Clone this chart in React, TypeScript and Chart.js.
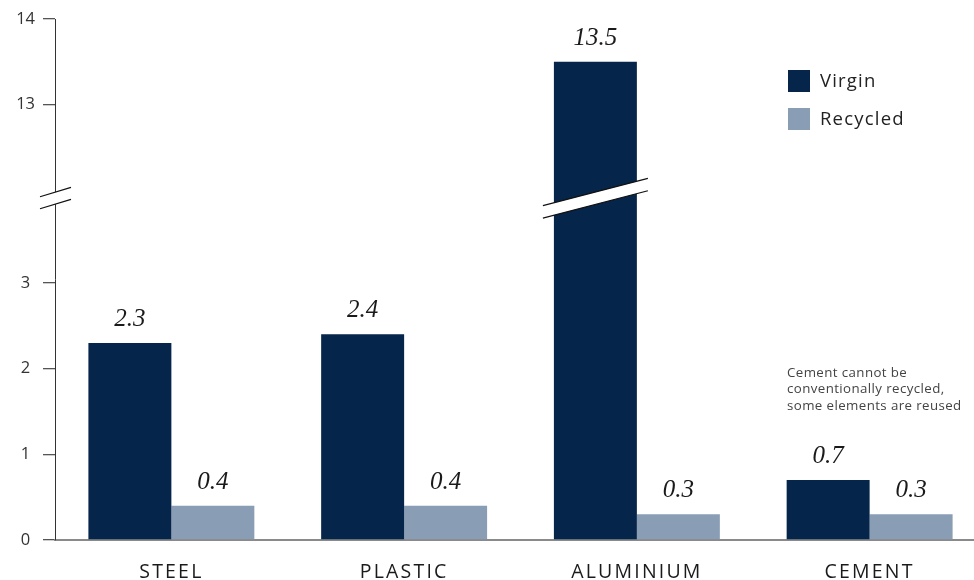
import { useEffect, useRef } from 'react';
import { Chart, registerables } from 'chart.js';

Chart.register(...registerables);

const categories = ['STEEL', 'PLASTIC', 'ALUMINIUM', 'CEMENT'];
const virgin = [2.3, 2.4, 13.5, 0.7];
const recycled = [0.4, 0.4, 0.3, 0.3];
const yTickValues = [0, 1, 2, 3, 13, 14];
const seriesNames = ['Virgin', 'Recycled'];
const seriesColors = ['#06254a', '#899db4'];
const noteLines = ['Cement cannot be', 'conventionally recycled,', 'some elements are reused'];

// broken axis: values above BREAK_LOW are shifted down by OFFSET
const BREAK_LOW = 4;
const OFFSET = 7.92;
const toAxis = (v: number) => (v > BREAK_LOW ? v - OFFSET : v);
const fromAxis = (v: number) => (v > BREAK_LOW ? Math.round(v + OFFSET) : Math.round(v));

const SANS = '"Open Sans", sans-serif';

function drawBreak(ctx: CanvasRenderingContext2D, x1: number, x2: number, xc: number, ymid: number, slope: number, half: number) {
  const y = (x: number) => ymid - slope * (x - xc);
  ctx.save();
  ctx.beginPath();
  ctx.moveTo(x1, y(x1) - half);
  ctx.lineTo(x2, y(x2) - half);
  ctx.lineTo(x2, y(x2) + half);
  ctx.lineTo(x1, y(x1) + half);
  ctx.closePath();
  ctx.fillStyle = '#ffffff';
  ctx.fill();
  ctx.strokeStyle = '#111';
  ctx.lineWidth = 1.2;
  ctx.beginPath();
  ctx.moveTo(x1, y(x1) - half);
  ctx.lineTo(x2, y(x2) - half);
  ctx.moveTo(x1, y(x1) + half);
  ctx.lineTo(x2, y(x2) + half);
  ctx.stroke();
  ctx.restore();
}

const decorPlugin = {
  id: 'decor',
  beforeDraw(chart: any) {
    chart.ctx.letterSpacing = '0px';
  },
  afterDatasetsDraw(chart: any) {
    const ctx = chart.ctx as CanvasRenderingContext2D;
    ctx.save();
    ctx.font = 'italic 25px "Liberation Serif", serif';
    ctx.fillStyle = '#1a1a1a';
    ctx.textAlign = 'center';
    ctx.textBaseline = 'alphabetic';
    chart.data.datasets.forEach((ds: any, di: number) => {
      const meta = chart.getDatasetMeta(di);
      meta.data.forEach((bar: any, i: number) => {
        const v = ds.raw[i];
        ctx.fillText(String(v), bar.x, bar.y - 17);
      });
    });
    ctx.restore();
    // x category labels (drawn next, ticks z:1) get letter spacing
    ctx.letterSpacing = '2.2px';
  },
  afterDraw(chart: any) {
    const ctx = chart.ctx as CanvasRenderingContext2D;
    ctx.letterSpacing = '0px';
    const ys = chart.scales.y;
    const yb = ys.getPixelForValue(BREAK_LOW);
    // axis break
    const ax = ys.right;
    drawBreak(ctx, ax - 15, ax + 16, ax, yb + 1, 0.3, 6);
    // bar breaks
    chart.data.datasets.forEach((ds: any, di: number) => {
      const meta = chart.getDatasetMeta(di);
      meta.data.forEach((bar: any, i: number) => {
        if (ds.raw[i] > BREAK_LOW) {
          const x1 = bar.x - bar.width / 2 - 11;
          const x2 = bar.x + bar.width / 2 + 11;
          drawBreak(ctx, x1, x2, bar.x, yb + 1, 0.26, 6.2);
        }
      });
    });
    // legend
    ctx.save();
    ctx.letterSpacing = '1.2px';
    ctx.font = '18.5px ' + SANS;
    ctx.textBaseline = 'middle';
    ctx.textAlign = 'left';
    chart.data.datasets.forEach((ds: any, di: number) => {
      const top = 70 + di * 38;
      ctx.fillStyle = ds.backgroundColor;
      ctx.fillRect(788, top, 22, 22);
      ctx.fillStyle = '#222';
      ctx.fillText(ds.label, 820, top + 11.5);
    });
    // note
    ctx.letterSpacing = '0.4px';
    ctx.font = '13.3px ' + SANS;
    ctx.fillStyle = '#444';
    noteLines.forEach((t, i) => ctx.fillText(t, 787, 373 + i * 16.5));
    ctx.restore();
    ctx.letterSpacing = '0px';
  },
};

export default function App() {
  const ref = useRef<HTMLCanvasElement | null>(null);
  useEffect(() => {
    if (!ref.current) return;
    const chart = new Chart(ref.current, {
      type: 'bar',
      data: {
        labels: categories,
        datasets: [
          { label: seriesNames[0], data: virgin.map(toAxis), raw: virgin, backgroundColor: seriesColors[0] } as any,
          { label: seriesNames[1], data: recycled.map(toAxis), raw: recycled, backgroundColor: seriesColors[1] } as any,
        ],
      },
      options: {
        animation: false,
        responsive: true,
        maintainAspectRatio: false,
        layout: { padding: { top: 19, right: 14, left: 0, bottom: 0 } },
        datasets: { bar: { barPercentage: 1, categoryPercentage: 0.713 } },
        plugins: { legend: { display: false }, tooltip: { enabled: false } },
        scales: {
          x: {
            grid: { display: false, z: 0 },
            border: { color: '#8a8a8a', width: 2 },
            ticks: { z: 1, color: '#1a1a1a', font: { family: SANS, size: 19.5 }, padding: 13 },
            afterFit: (s: any) => { s.height = 40; },
          },
          y: {
            min: 0,
            max: toAxis(14),
            border: { color: '#333', width: 1 },
            grid: { drawOnChartArea: false, tickLength: 12, color: '#555', lineWidth: 1.3 },
            ticks: {
              color: '#333',
              font: { family: SANS, size: 16.5 },
              crossAlign: 'center',
              padding: 8,
              callback: (v: any) => String(fromAxis(Number(v))),
            },
            afterBuildTicks: (s: any) => {
              s.ticks = yTickValues.map((v) => ({ value: toAxis(v) }));
            },
            afterFit: (s: any) => { s.width = 55; },
          },
        },
      },
      plugins: [decorPlugin],
    });
    return () => chart.destroy();
  }, []);
  return (
    <div style={{ position: 'fixed', left: 0, top: 0, width: 974, height: 580, overflow: 'hidden', background: '#fff' }}>
      <div style={{ position: 'relative', width: 1000, height: 580 }}>
        <canvas ref={ref} />
      </div>
    </div>
  );
}
